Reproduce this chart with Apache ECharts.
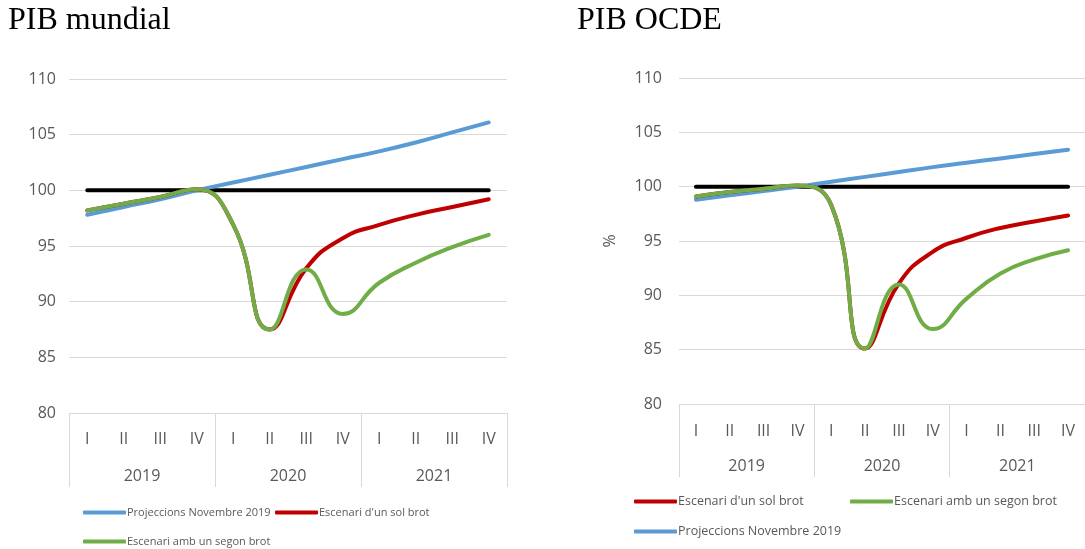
<!DOCTYPE html>
<html>
<head>
<meta charset="utf-8" />
<title>PIB mundial i PIB OCDE</title>
<script src="https://cdn.jsdelivr.net/npm/echarts@6/dist/echarts.min.js"></script>
<style>
  html, body { margin: 0; padding: 0; background: #fff; }
  #main { width: 1085px; height: 549px; }
</style>
</head>
<body>
<div id="main"></div>
<script>
// categories
var quarters = ['I', 'II', 'III', 'IV', 'I', 'II', 'III', 'IV', 'I', 'II', 'III', 'IV'];
var years = ['2019', '2020', '2021'];

// PIB mundial (index)
var worldBase = [100, 100, 100, 100, 100, 100, 100, 100, 100, 100, 100, 100];
var worldProj = [97.8, 98.5, 99.2, 100.0, 100.7, 101.4, 102.1, 102.8, 103.5, 104.3, 105.2, 106.1];
var worldOne  = [98.2, 98.8, 99.4, 100.1, 96.9, 87.5, 93.0, 95.7, 96.9, 97.8, 98.5, 99.2];
var worldTwo  = [98.2, 98.8, 99.4, 100.1, 96.9, 87.5, 92.9, 88.9, 91.7, 93.5, 94.9, 96.0];

// PIB OCDE (index)
var oecdBase = [100, 100, 100, 100, 100, 100, 100, 100, 100, 100, 100, 100];
var oecdProj = [98.8, 99.2, 99.6, 100.0, 100.45, 100.9, 101.35, 101.8, 102.2, 102.6, 103.0, 103.4];
var oecdOne  = [99.1, 99.5, 99.8, 100.1, 98.3, 85.1, 91.1, 94.0, 95.3, 96.2, 96.8, 97.35];
var oecdTwo  = [99.1, 99.5, 99.8, 100.1, 98.3, 85.1, 91.0, 86.9, 89.7, 92.0, 93.3, 94.15];

var PROJ = 'Projeccions Novembre 2019';
var ONE = "Escenari d'un sol brot";
var TWO = 'Escenari amb un segon brot';

var font = '"Open Sans", sans-serif';
var grey = '#595959';

function yAx(gi, name, margin) {
  return {
    type: 'value', gridIndex: gi, min: 80, max: 110, interval: 5,
    name: name || '', nameLocation: 'middle', nameGap: 61, nameRotate: 90,
    nameTextStyle: { color: grey, fontSize: 16, fontFamily: font },
    axisLine: { show: false }, axisTick: { show: false },
    axisLabel: { color: grey, fontSize: 16, fontFamily: font, margin: margin },
    splitLine: { lineStyle: { color: '#d9d9d9', width: 1 } }
  };
}
function xQuarters(gi, margin) {
  return {
    type: 'category', gridIndex: gi, data: quarters, boundaryGap: true,
    axisLine: { lineStyle: { color: '#d9d9d9' } },
    axisTick: { show: false },
    axisLabel: { color: grey, fontSize: 16, fontFamily: font, margin: margin, interval: 0 }
  };
}
function xYears(gi, len, margin) {
  return {
    type: 'category', gridIndex: gi, data: years, boundaryGap: true, position: 'bottom',
    axisLine: { show: false },
    axisTick: { show: true, length: len, lineStyle: { color: '#d9d9d9' } },
    axisLabel: { color: grey, fontSize: 16, fontFamily: font, margin: margin, interval: 0 }
  };
}
function line(name, data, color, xi, yi, z) {
  return {
    name: name, type: 'line', data: data, xAxisIndex: xi, yAxisIndex: yi,
    smooth: 0.5, showSymbol: false, symbol: 'none', z: z,
    lineStyle: { color: color, width: 4, cap: 'round' },
    itemStyle: { color: color }
  };
}
function leg(name, left, top, size) {
  return {
    data: [name], left: left, top: top, icon: 'roundRect', padding: 0,
    itemWidth: 43, itemHeight: 4, selectedMode: false,
    textStyle: { color: grey, fontSize: size, fontFamily: font, padding: [0, 0, 0, -4] }
  };
}

var chart = echarts.init(document.getElementById('main'));
chart.setOption({
  animation: false,
  title: [
    { text: 'PIB mundial', left: 3, top: 0,
      textStyle: { fontFamily: '"Liberation Serif", serif', fontSize: 32, fontWeight: 'normal', color: '#000' } },
    { text: 'PIB OCDE', left: 572, top: 0,
      textStyle: { fontFamily: '"Liberation Serif", serif', fontSize: 32, fontWeight: 'normal', color: '#000' } }
  ],
  grid: [
    { left: 69, top: 79, width: 438, height: 334 },
    { left: 679, top: 78, width: 411, height: 326 }
  ],
  xAxis: [
    xQuarters(0, 18), xYears(0, 74, 55),
    xQuarters(1, 19), xYears(1, 73, 54)
  ],
  yAxis: [yAx(0, '', 13), yAx(1, '%', 17)],
  legend: [
    leg(PROJ, 83, 507, 11), leg(ONE, 275, 507, 11), leg(TWO, 83, 536, 11),
    leg(ONE, 634, 495, 12.5), leg(TWO, 850, 495, 12.5), leg(PROJ, 634, 525, 12.5)
  ],
  series: [
    line('base', worldBase, '#000000', 0, 0, 2),
    line(PROJ, worldProj, '#5b9bd5', 0, 0, 3),
    line(ONE, worldOne, '#c00000', 0, 0, 4),
    line(TWO, worldTwo, '#70ad47', 0, 0, 5),
    line('base', oecdBase, '#000000', 2, 1, 2),
    line(PROJ, oecdProj, '#5b9bd5', 2, 1, 3),
    line(ONE, oecdOne, '#c00000', 2, 1, 4),
    line(TWO, oecdTwo, '#70ad47', 2, 1, 5)
  ]
});
</script>
</body>
</html>
